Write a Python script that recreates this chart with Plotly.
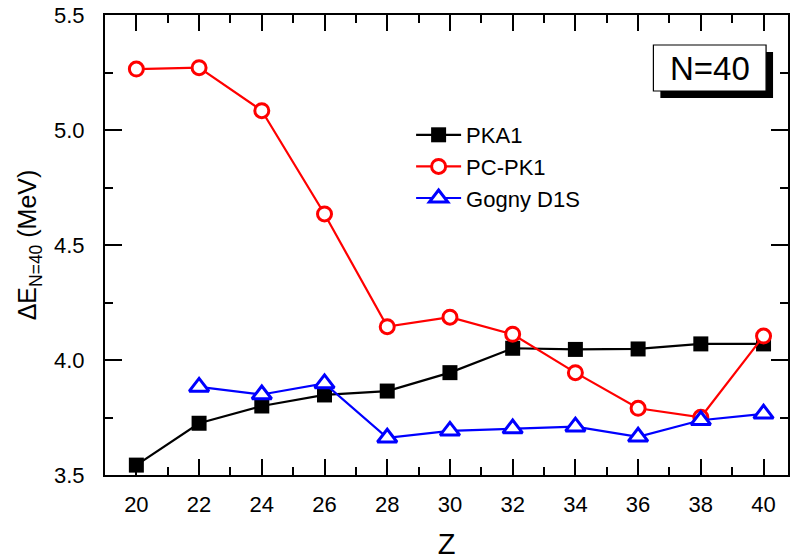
import plotly.graph_objects as go

Z = [20, 22, 24, 26, 28, 30, 32, 34, 36, 38, 40]
pka1 = [3.543, 3.725, 3.800, 3.848, 3.865, 3.945, 4.051, 4.046, 4.048, 4.070, 4.070]
pcpk1 = [5.265, 5.271, 5.084, 4.635, 4.145, 4.186, 4.112, 3.945, 3.790, 3.751, 4.104]
Z_gogny = [22, 24, 26, 28, 30, 32, 34, 36, 38, 40]
gogny = [3.883, 3.850, 3.898, 3.662, 3.692, 3.702, 3.710, 3.666, 3.738, 3.766]

x_ticks = [20, 22, 24, 26, 28, 30, 32, 34, 36, 38, 40]
y_ticks = [3.5, 4.0, 4.5, 5.0, 5.5]

FONT = "Liberation Sans, Arial, sans-serif"

fig = go.Figure()
fig.add_trace(go.Scatter(
    x=Z, y=pka1, name="PKA1", mode="lines+markers", legendgroup="a",
    line=dict(color="black", width=2.2),
    marker=dict(symbol="square", size=15, color="black", line=dict(width=0))))
fig.add_trace(go.Scatter(
    x=Z, y=pcpk1, name="PC-PK1", mode="lines+markers", legendgroup="b",
    line=dict(color="#ff0000", width=2.2),
    marker=dict(symbol="circle", size=14, color="white", line=dict(color="#ff0000", width=3))))
fig.add_trace(go.Scatter(
    x=Z_gogny, y=gogny, name="Gogny D1S", mode="lines+markers", legendgroup="c",
    line=dict(color="#0000ff", width=2.2),
    marker=dict(symbol="triangle-up", size=17, color="white", line=dict(color="#0000ff", width=3))))

L, T, B, W, H = 105, 15, 85, 790, 560
pw = W - L
ph = H - T - B

def px(x):
    return (x - L) / pw

def py(y):
    return (H - B - y) / ph

# N=40 label box with shadow
fig.add_shape(type="rect", xref="paper", yref="paper",
              x0=px(662), x1=px(775), y0=py(98), y1=py(52),
              fillcolor="black", line=dict(width=0), layer="above")
fig.add_shape(type="rect", xref="paper", yref="paper",
              x0=px(655), x1=px(768), y0=py(91), y1=py(45),
              fillcolor="white", line=dict(color="black", width=1.2), layer="above")
fig.add_annotation(xref="paper", yref="paper", x=px(711.5), y=py(68),
                   xanchor="center", yanchor="middle",
                   text="N=40", showarrow=False,
                   font=dict(family=FONT, size=33, color="black"))

fig.update_layout(
    width=W, height=H,
    margin=dict(l=L, r=0, t=T, b=B),
    paper_bgcolor="white", plot_bgcolor="white",
    font=dict(family=FONT, color="black"),
    showlegend=True,
    legend=dict(x=px(412), y=py(114), xanchor="left", yanchor="top",
                bgcolor="rgba(0,0,0,0)", borderwidth=0,
                font=dict(family=FONT, size=22, color="black"),
                traceorder="grouped", tracegroupgap=0, itemwidth=45),
)
fig.update_xaxes(
    range=[19, 40.78], tickmode="array", tickvals=x_ticks,
    ticks="inside", ticklen=16, tickwidth=2, tickcolor="black",
    minor=dict(dtick=1, ticks="inside", ticklen=8, tickwidth=2, tickcolor="black"),
    showline=True, linewidth=2, linecolor="black", mirror="ticks",
    showgrid=False, zeroline=False,
    tickfont=dict(family=FONT, size=22, color="black"),
    ticklabelstandoff=9,
    title=dict(text="Z", font=dict(family=FONT, size=29, color="black"), standoff=19),
)
fig.update_yaxes(
    range=[3.5, 5.5], tickmode="array", tickvals=y_ticks,
    ticktext=["3.5", "4.0", "4.5", "5.0", "5.5"],
    ticks="inside", ticklen=17, tickwidth=2, tickcolor="black",
    minor=dict(dtick=0.25, ticks="inside", ticklen=8, tickwidth=2, tickcolor="black"),
    showline=True, linewidth=2, linecolor="black", mirror="ticks",
    showgrid=False, zeroline=False,
    tickfont=dict(family=FONT, size=22, color="black"),
    ticklabelstandoff=14,
    title=dict(text="ΔE<sub>N=40</sub> (MeV)", font=dict(family=FONT, size=25, color="black"), standoff=10),
)

fig.write_html("out.html")
